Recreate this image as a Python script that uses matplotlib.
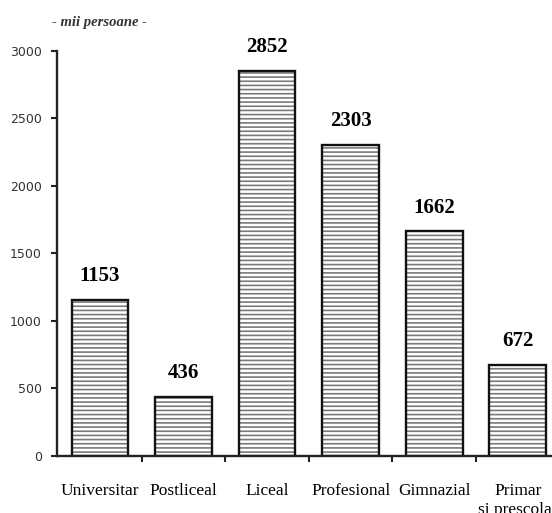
import numpy as np
import matplotlib.pyplot as plt

# date
categorii = ['Universitar', 'Postliceal', 'Liceal', 'Profesional', 'Gimnazial', 'Primar\nsi prescolar']
valori = [1153, 436, 2852, 2303, 1662, 672]
yticks = [0, 500, 1000, 1500, 2000, 2500, 3000]

plt.rcParams['hatch.linewidth'] = 1.2

fig = plt.figure(figsize=(5.52, 5.13), dpi=100)
ax = fig.add_axes([0.1033, 0.1117, 0.8967, 0.7889])

x = np.arange(len(categorii))
# hasura gri, apoi contur negru
ax.bar(x, valori, width=0.68, color='white', edgecolor='#7a7a7a', hatch='----', linewidth=0)
bars = ax.bar(x, valori, width=0.68, color='none', edgecolor='#111111', linewidth=1.7)

ax.bar_label(bars, labels=[str(v) for v in valori], padding=10,
             fontfamily='Liberation Serif', fontweight='bold', fontsize=15)

ax.set_xlim(-0.514, 5.41)
ax.set_ylim(0, 3000)
ax.set_yticks(yticks)
ax.set_yticklabels([str(t) for t in yticks], fontsize=9, color='#333333')
ax.tick_params(axis='y', length=4, width=1.5, pad=7, color='#222222')

ax.set_xticks(x)
ax.set_xticklabels(categorii, fontfamily='Liberation Serif', fontsize=12.5)
ax.tick_params(axis='x', which='major', length=0, pad=20)
ax.set_xticks(x[:-1] + 0.5, minor=True)
ax.tick_params(axis='x', which='minor', length=4, width=1.5, color='#222222')

for s in ['top', 'right']:
    ax.spines[s].set_visible(False)
for s in ['left', 'bottom']:
    ax.spines[s].set_linewidth(1.7)
    ax.spines[s].set_color('#222222')

fig.text(0.181, 0.957, '- mii persoane -', ha='center', va='center',
         fontfamily='Liberation Serif', style='italic', fontweight='bold',
         fontsize=10.5, color='#333333')

fig.savefig('out.png', dpi=100)
